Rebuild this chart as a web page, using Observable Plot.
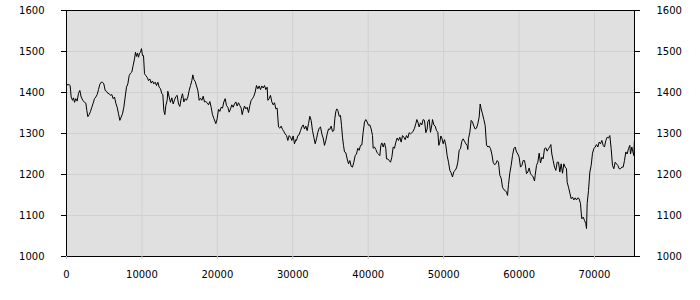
<!DOCTYPE html>
<html><head><meta charset="utf-8">
<script src="https://cdn.jsdelivr.net/npm/d3@7"></script>
<script src="https://cdn.jsdelivr.net/npm/@observablehq/plot@0.6"></script>
<style>body{margin:0;background:#fff} svg{display:block}</style>
</head><body><div id="chart"></div>
<script>
const seg1 = [[0,1419],[354,1419],[486,1417],[619,1389],[796,1381],[928,1387],[1061,1376],[1237,1385],[1414,1379],[1591,1398],[1768,1405],[1945,1389],[2165,1381],[2386,1376],[2563,1374],[2696,1356],[2828,1341],[3005,1346],[3182,1354],[3359,1364],[3535,1374],[3712,1385],[3889,1389],[4066,1395],[4242,1407],[4419,1420],[4596,1425],[4773,1425],[4949,1421],[5126,1405],[5303,1403],[5480,1398],[5656,1397],[5833,1393],[6010,1395],[6187,1385],[6364,1389],[6540,1374],[6717,1364],[6894,1348],[7071,1332],[7247,1340],[7424,1348],[7601,1364],[7778,1389],[7954,1413],[8131,1421],[8308,1441],[8485,1447],[8661,1450],[8838,1466],[9015,1482],[9147,1498],[9280,1488],[9413,1496],[9545,1486],[9678,1496],[9811,1498],[9943,1507],[10076,1490],[10208,1490],[10341,1446],[10518,1441],[10695,1437],[10871,1429],[11048,1433],[11225,1423],[11402,1428],[11578,1421],[11755,1425],[11932,1417],[12109,1425],[12285,1413],[12462,1409],[12639,1397],[12771,1395],[12904,1356],[13037,1346],[13169,1368],[13346,1381],[13434,1403],[13611,1389],[13787,1376],[13964,1387],[14141,1372],[14318,1382],[14494,1390],[14671,1393],[14848,1372],[15025,1366],[15202,1385],[15378,1397]];
const seg2 = [[15555,1377],[15732,1385],[15909,1381],[16085,1389],[16262,1405],[16439,1417],[16616,1429],[16748,1443],[16881,1432],[17058,1427],[17234,1416],[17411,1405],[17588,1381],[17765,1386],[17941,1381],[18118,1391],[18295,1377],[18472,1378],[18648,1375],[18825,1370],[19002,1378],[19179,1364],[19355,1346],[19532,1337],[19797,1324],[19974,1336],[20151,1359],[20328,1354],[20504,1364],[20681,1362],[20858,1377],[21035,1385],[21211,1368],[21388,1364],[21565,1352],[21742,1360],[21918,1370],[22095,1364],[22272,1372],[22449,1377],[22625,1367],[22802,1375],[22979,1368],[23156,1362],[23288,1346],[23421,1356],[23598,1367],[23774,1360],[23951,1364],[24128,1351],[24305,1368],[24481,1381],[24658,1385],[24835,1391],[25012,1401],[25188,1417],[25365,1409],[25542,1416],[25719,1407],[25896,1416],[26072,1411],[26249,1417],[26426,1407],[26603,1413],[26691,1381],[26868,1385],[27044,1393],[27221,1377],[27398,1370],[27575,1375],[27751,1360],[27928,1362],[28105,1316],[28282,1313],[28458,1318],[28635,1310],[28812,1305],[28989,1299],[29166,1295],[29342,1283],[29519,1295],[29696,1291],[29873,1283],[30049,1294],[30226,1275],[30403,1285]];
const seg3 = [[30491,1283],[30668,1295],[30845,1297],[31022,1307],[31198,1316],[31375,1321],[31552,1311],[31729,1318],[31905,1307],[32082,1324],[32259,1342],[32436,1332],[32612,1307],[32789,1291],[32966,1275],[33143,1287],[33319,1303],[33496,1313],[33673,1316],[33850,1299],[34026,1289],[34203,1271],[34380,1283],[34557,1299],[34733,1311],[34910,1310],[35087,1318],[35264,1305],[35441,1307],[35573,1336],[35706,1354],[35838,1360],[35971,1356],[36148,1342],[36324,1344],[36457,1320],[36590,1291],[36722,1271],[36855,1255],[37031,1253],[37208,1238],[37385,1226],[37562,1234],[37738,1220],[37915,1218],[38092,1230],[38269,1246],[38445,1250],[38622,1264],[38799,1259],[38976,1271],[39152,1272],[39329,1303],[39506,1328],[39683,1334],[39859,1328],[40036,1320],[40213,1321],[40390,1311],[40567,1295],[40655,1264],[40832,1267],[41009,1261],[41185,1253],[41362,1250],[41539,1246],[41671,1271],[41804,1277],[41981,1267],[42157,1277],[42334,1263],[42423,1238],[42599,1238],[42776,1234],[42953,1230],[43130,1242],[43306,1267],[43483,1264],[43660,1279],[43837,1289],[44013,1283],[44190,1291],[44367,1279],[44544,1295],[44720,1291],[44897,1285],[45074,1295],[45251,1289],[45428,1302],[45604,1299]];
const seg4 = [[45781,1302],[45958,1305],[46135,1313],[46311,1324],[46444,1334],[46576,1328],[46753,1316],[46930,1326],[47107,1321],[47284,1334],[47460,1332],[47637,1302],[47814,1311],[47902,1329],[48079,1334],[48256,1303],[48433,1321],[48521,1334],[48698,1321],[48875,1318],[49051,1307],[49228,1303],[49361,1271],[49493,1279],[49626,1294],[49758,1289],[49935,1275],[50112,1285],[50288,1271],[50465,1246],[50642,1230],[50819,1210],[50995,1204],[51172,1194],[51349,1207],[51526,1210],[51703,1216],[51879,1230],[52056,1259],[52233,1263],[52410,1281],[52586,1287],[52763,1281],[52940,1275],[53117,1271],[53205,1261],[53293,1287],[53470,1303],[53647,1332],[53824,1328],[54000,1318],[54177,1311],[54354,1313],[54531,1324],[54707,1340],[54840,1372],[54973,1360],[55149,1348],[55326,1334],[55503,1320],[55680,1272],[55856,1267],[56033,1269],[56210,1263],[56387,1250],[56563,1230],[56740,1224],[56917,1226],[57094,1234],[57270,1230],[57447,1198],[57624,1191],[57801,1169],[57977,1163],[58154,1161],[58331,1157],[58464,1149],[58596,1175],[58773,1204],[58950,1222],[59126,1246],[59303,1263],[59480,1267],[59657,1255],[59834,1250],[60010,1242],[60187,1218],[60364,1222],[60541,1234],[60717,1234]];
const seg5 = [[60806,1226],[60983,1202],[61159,1206],[61336,1216],[61513,1202],[61690,1198],[61866,1194],[62043,1184],[62132,1198],[62308,1222],[62485,1230],[62662,1252],[62839,1228],[63015,1242],[63192,1238],[63369,1263],[63546,1265],[63722,1257],[63899,1263],[64076,1268],[64208,1273],[64341,1250],[64518,1234],[64695,1218],[64871,1210],[65048,1230],[65225,1230],[65402,1206],[65578,1226],[65755,1203],[65932,1226],[66109,1218],[66285,1214],[66374,1181],[66551,1169],[66727,1155],[66904,1141],[67081,1145],[67258,1138],[67434,1143],[67611,1138],[67788,1143],[67965,1141],[68141,1129],[68230,1108],[68318,1092],[68495,1096],[68672,1088],[68848,1080],[68937,1068],[69025,1129],[69202,1161],[69379,1206],[69555,1222],[69732,1252],[69909,1263],[70086,1267],[70262,1273],[70439,1267],[70616,1279],[70793,1275],[70970,1283],[71146,1271],[71323,1267],[71500,1283],[71677,1291],[71853,1289],[72030,1295],[72207,1263],[72384,1222],[72560,1214],[72737,1230],[72914,1226],[73091,1222],[73267,1214],[73444,1214],[73621,1218],[73798,1218],[73974,1234],[74151,1255],[74328,1250],[74505,1263],[74682,1271],[74770,1250],[74947,1267],[75124,1252],[75212,1246],[75280,1281]];
const yTicks = [1000, 1100, 1200, 1300, 1400, 1500, 1600];
const xTicks = [0, 10000, 20000, 30000, 40000, 50000, 60000, 70000];
const xDomain = [0, 75300];
const yDomain = [1000, 1600];

const data = [...seg1, ...seg2, ...seg3, ...seg4, ...seg5].map(([x, y]) => ({x, y}));
const fmt = d3.format("d");

const chart = Plot.plot({
  width: 700, height: 300,
  marginLeft: 66, marginRight: 66, marginTop: 10, marginBottom: 44,
  style: {fontFamily: "DejaVu Sans", fontSize: "10px", color: "#000", background: "#fff"},
  x: {domain: xDomain, label: null},
  y: {domain: yDomain, label: null},
  marks: [
    Plot.frame({fill: "#e0e0e0"}),
    Plot.gridX(xTicks, {stroke: "#d0d0d0", strokeOpacity: 1}),
    Plot.gridY(yTicks, {stroke: "#d0d0d0", strokeOpacity: 1}),
    Plot.line(data, {x: "x", y: "y", stroke: "#000", strokeWidth: 1}),
    Plot.frame({stroke: "#000", strokeWidth: 1}),
    Plot.axisY(yTicks, {anchor: "left", tickSize: 5, tickPadding: 17, tickFormat: fmt, label: null}),
    Plot.axisY(yTicks, {anchor: "right", tickSize: 5, tickPadding: 17, tickFormat: fmt, label: null}),
    Plot.axisX(xTicks, {anchor: "bottom", tickSize: 3, tickPadding: 11, stroke: "#c8c8c8", tickFormat: fmt, label: null})
  ]
});
document.getElementById("chart").appendChild(chart);
</script>
</body></html>
